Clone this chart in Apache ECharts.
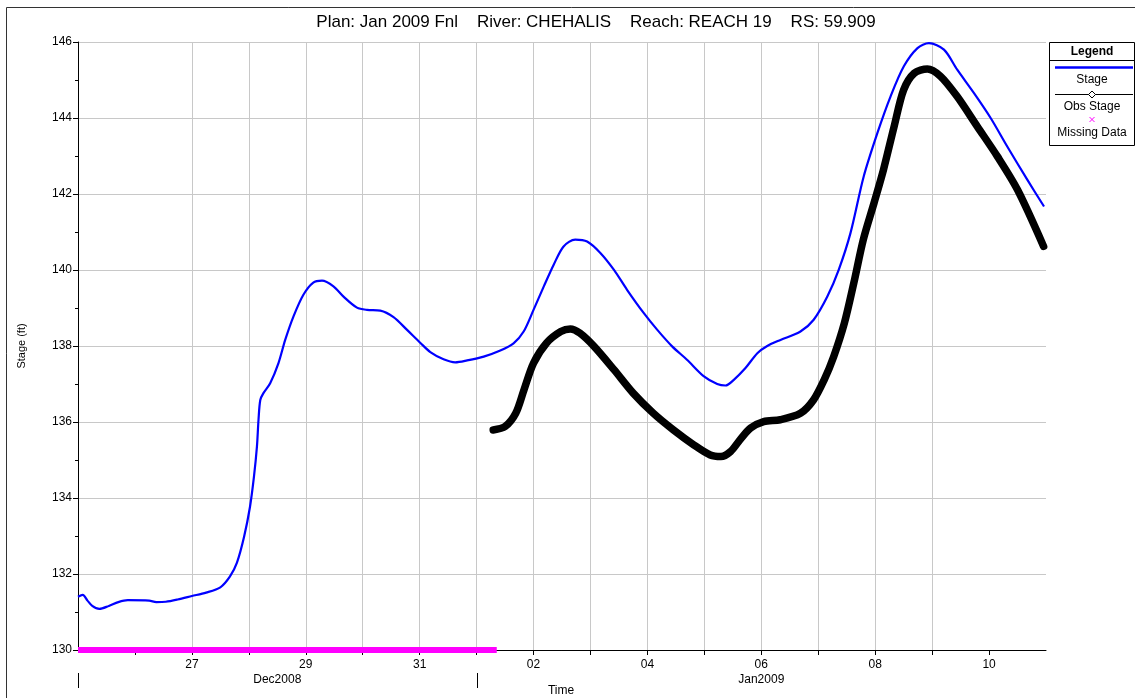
<!DOCTYPE html>
<html>
<head>
<meta charset="utf-8">
<title>Stage hydrograph - CHEHALIS REACH 19 RS 59.909</title>
<script src="https://cdn.jsdelivr.net/npm/echarts@6/dist/echarts.min.js"></script>
<style>
  html, body { margin: 0; padding: 0; background: #fff; }
  #chart { width: 1135px; height: 698px; }
</style>
</head>
<body>
<div id="chart"></div>
<script>
// ---- data -------------------------------------------------------------
const titleText = 'Plan: Jan 2009 Fnl    River: CHEHALIS    Reach: REACH 19    RS: 59.909';
const axisStart = '2008-12-25 00:00';
const axisEnd = '2009-01-11 00:00';
const monthLabels = ['Dec2008', 'Jan2009'];
const monthStarts = ['2008-12-25 00:00', '2009-01-01 00:00'];

// Computed stage (ft)
const stageTimes = [
  '2008-12-25 00:00', '2008-12-25 02:00', '2008-12-25 04:00', '2008-12-25 06:00', '2008-12-25 09:00',
  '2008-12-25 13:00', '2008-12-25 17:00', '2008-12-25 21:00', '2008-12-26 06:00', '2008-12-26 09:00',
  '2008-12-26 13:00', '2008-12-26 18:00', '2008-12-27 00:00', '2008-12-27 06:00', '2008-12-27 12:00',
  '2008-12-27 16:00', '2008-12-27 19:00', '2008-12-27 22:00', '2008-12-28 00:30', '2008-12-28 02:10',
  '2008-12-28 03:25', '2008-12-28 04:05', '2008-12-28 04:50', '2008-12-28 06:10', '2008-12-28 09:00',
  '2008-12-28 12:30', '2008-12-28 15:20', '2008-12-28 18:50', '2008-12-28 23:00', '2008-12-29 03:10',
  '2008-12-29 06:50', '2008-12-29 11:40', '2008-12-29 15:55', '2008-12-29 21:35', '2008-12-30 01:50',
  '2008-12-30 07:25', '2008-12-30 13:00', '2008-12-30 18:35', '2008-12-31 00:20', '2008-12-31 04:30',
  '2008-12-31 10:05', '2008-12-31 15:00', '2008-12-31 20:00', '2009-01-01 03:00', '2009-01-01 10:00',
  '2009-01-01 15:35', '2009-01-01 19:50', '2009-01-02 00:00', '2009-01-02 04:20', '2009-01-02 08:30',
  '2009-01-02 12:40', '2009-01-02 17:35', '2009-01-02 22:35', '2009-01-03 04:10', '2009-01-03 09:50',
  '2009-01-03 15:25', '2009-01-03 22:25', '2009-01-04 04:05', '2009-01-04 10:25', '2009-01-04 16:40',
  '2009-01-04 23:50', '2009-01-05 05:25', '2009-01-05 08:55', '2009-01-05 12:25', '2009-01-05 17:20',
  '2009-01-05 22:20', '2009-01-06 02:30', '2009-01-06 08:05', '2009-01-06 16:30', '2009-01-06 22:05',
  '2009-01-07 03:50', '2009-01-07 08:40', '2009-01-07 13:35', '2009-01-07 19:10', '2009-01-08 00:55',
  '2009-01-08 06:30', '2009-01-08 12:05', '2009-01-08 17:50', '2009-01-08 22:40', '2009-01-09 05:00',
  '2009-01-09 10:35', '2009-01-09 17:35', '2009-01-10 00:40', '2009-01-10 07:40', '2009-01-10 16:10',
  '2009-01-10 23:10'
];
const stageValues = [
  131.40, 131.45, 131.30, 131.16, 131.08,
  131.16, 131.26, 131.31, 131.30, 131.26,
  131.27, 131.33, 131.42, 131.51, 131.65,
  131.93, 132.30, 132.98, 133.77, 134.56,
  135.35, 136.06, 136.58, 136.76, 137.02,
  137.55, 138.16, 138.78, 139.35, 139.67,
  139.72, 139.57, 139.30, 139.01, 138.95,
  138.93, 138.76, 138.43, 138.08, 137.84,
  137.65, 137.57, 137.62, 137.72, 137.88,
  138.07, 138.38, 138.95, 139.57, 140.14,
  140.62, 140.80, 140.75, 140.45, 140.01,
  139.48, 138.87, 138.43, 137.99, 137.64,
  137.20, 137.00, 136.96, 137.11, 137.42,
  137.81, 138.00, 138.16, 138.38, 138.69,
  139.30, 140.01, 140.97, 142.46, 143.60,
  144.57, 145.36, 145.84, 145.97, 145.80,
  145.27, 144.66, 144.00, 143.25, 142.37,
  141.67
];

// Observed stage (ft)
const obsTimes = [
  '2009-01-01 07:00', '2009-01-01 12:00', '2009-01-01 16:30', '2009-01-01 20:00', '2009-01-02 00:00',
  '2009-01-02 05:30', '2009-01-02 11:30', '2009-01-02 15:30', '2009-01-02 19:30', '2009-01-03 01:30',
  '2009-01-03 10:00', '2009-01-03 18:00', '2009-01-04 02:30', '2009-01-04 11:00', '2009-01-04 19:30',
  '2009-01-05 02:30', '2009-01-05 07:00', '2009-01-05 11:00', '2009-01-05 15:00', '2009-01-05 19:30',
  '2009-01-06 01:00', '2009-01-06 08:00', '2009-01-06 16:30', '2009-01-06 22:00', '2009-01-07 02:30',
  '2009-01-07 06:30', '2009-01-07 11:00', '2009-01-07 15:00', '2009-01-07 19:00', '2009-01-07 23:30',
  '2009-01-08 03:30', '2009-01-08 08:00', '2009-01-08 12:00', '2009-01-08 16:30', '2009-01-08 22:00',
  '2009-01-09 03:30', '2009-01-09 10:30', '2009-01-09 19:00', '2009-01-10 03:30', '2009-01-10 12:00',
  '2009-01-10 23:00'
];
const obsValues = [
  135.79, 135.88, 136.23, 136.85, 137.55,
  138.08, 138.38, 138.45, 138.34, 137.99,
  137.37, 136.76, 136.23, 135.79, 135.40,
  135.13, 135.09, 135.22, 135.53, 135.84,
  136.01, 136.06, 136.23, 136.58, 137.11,
  137.72, 138.60, 139.66, 140.80, 141.76,
  142.64, 143.78, 144.74, 145.18, 145.29,
  145.10, 144.57, 143.78, 142.99, 142.11,
  140.62
];

// Period with no observed record, flagged at the axis floor
const missingTimes = ['2008-12-25 00:00', '2009-01-01 08:30'];
const missingValues = [130, 130];

// Stage axis
const yMin = 130, yMax = 146, yStep = 2;

// ---- helpers ----------------------------------------------------------
const DAY = 86400000;
function toMs(s) {
  const [d, t] = s.split(' ');
  const [Y, M, D] = d.split('-').map(Number);
  const [h, m] = t.split(':').map(Number);
  return Date.UTC(Y, M - 1, D, h, m);
}
function pairs(times, values) {
  return times.map((t, i) => [toMs(t), values[i]]);
}
const tStart = toMs(axisStart);
const tEnd = toMs(axisEnd);
const dayTicks = [];
for (let t = tStart + DAY; t < tEnd; t += DAY) dayTicks.push(t);
const pad2 = n => (n < 10 ? '0' : '') + n;

const FONT = '"Liberation Sans", Arial, sans-serif';

// ---- chart ------------------------------------------------------------
const chart = echarts.init(document.getElementById('chart'), null, { renderer: 'canvas' });

chart.setOption({
  animation: false,
  backgroundColor: '#ffffff',
  textStyle: { fontFamily: FONT },
  grid: { left: 78, right: 89, top: 42, bottom: 48, containLabel: false },
  xAxis: {
    type: 'value',
    min: tStart,
    max: tEnd,
    interval: 2 * DAY,
    axisLine: { show: true, lineStyle: { color: '#000', width: 1 } },
    axisTick: { show: true, inside: false, length: 5, customValues: dayTicks, lineStyle: { color: '#000' } },
    minorTick: { show: false },
    axisLabel: {
      color: '#000', fontSize: 12, fontFamily: FONT, margin: 9,
      showMinLabel: false, showMaxLabel: false,
      formatter: v => (v <= tStart || v >= tEnd) ? '' : pad2(new Date(v).getUTCDate())
    },
    splitLine: { show: true, showMinLine: false, showMaxLine: false, lineStyle: { color: '#c8c8c8', width: 1 } }
  },
  yAxis: {
    type: 'value',
    min: yMin,
    max: yMax,
    interval: yStep,
    name: 'Stage (ft)',
    nameLocation: 'middle',
    nameRotate: 90,
    nameGap: 51,
    nameTextStyle: { color: '#000', fontSize: 11, fontFamily: FONT },
    axisLine: { show: true, lineStyle: { color: '#000', width: 1 } },
    axisTick: { show: true, inside: false, length: 5, lineStyle: { color: '#000' } },
    minorTick: { show: true, splitNumber: 2, length: 3, lineStyle: { color: '#000' } },
    axisLabel: { color: '#000', fontSize: 12, fontFamily: FONT, margin: 6 },
    splitLine: { show: true, showMinLine: false, lineStyle: { color: '#c8c8c8', width: 1 } }
  },
  series: [
    {
      name: 'Missing Data',
      type: 'line',
      data: pairs(missingTimes, missingValues),
      symbol: 'none',
      lineStyle: { color: '#ff00ff', width: 6 },
      z: 3
    },
    {
      name: 'Obs Stage',
      type: 'line',
      data: pairs(obsTimes, obsValues),
      symbol: 'none',
      smooth: 0.3,
      lineStyle: { color: '#000', width: 7.5, cap: 'round', join: 'round' },
      z: 4
    },
    {
      name: 'Stage',
      type: 'line',
      data: pairs(stageTimes, stageValues),
      symbol: 'none',
      smooth: 0.3,
      lineStyle: { color: '#0000ff', width: 2.2, join: 'round' },
      z: 5
    }
  ]
});

// ---- decorations: frame, title, month band, legend ---------------------
const px = t => chart.convertToPixel({ xAxisIndex: 0 }, t);
const xRight = px(tEnd);
const monthX = monthStarts.map(s => px(toMs(s)));
const bandY = 680;

const graphics = [
  { type: 'rect', silent: true, z: 0,
    shape: { x: 6.5, y: 7.5, width: 1200, height: 800 },
    style: { fill: null, stroke: '#333', lineWidth: 1 } },
  { type: 'text', x: 596, y: 22, z: 10,
    style: { text: titleText, font: '17px ' + FONT, fill: '#000', textAlign: 'center', textVerticalAlign: 'middle' } },
  { type: 'text', x: 561, y: 691, z: 10,
    style: { text: 'Time', font: '12px ' + FONT, fill: '#000', textAlign: 'center', textVerticalAlign: 'middle' } }
];

// month separators and labels
monthX.forEach((x, i) => {
  const xr = Math.round(x) + 0.5;
  graphics.push({ type: 'line', silent: true, z: 10,
    shape: { x1: xr, y1: 673, x2: xr, y2: 688 }, style: { stroke: '#000', lineWidth: 1 } });
  const xEnd = i + 1 < monthX.length ? monthX[i + 1] : xRight;
  graphics.push({ type: 'text', x: (x + xEnd) / 2, y: bandY, z: 10,
    style: { text: monthLabels[i], font: '12px ' + FONT, fill: '#000', textAlign: 'center', textVerticalAlign: 'middle' } });
});

// legend box
const lgX = 1049.5, lgY = 42.5, lgW = 85, lgH = 103, lgC = lgX + lgW / 2;
graphics.push(
  { type: 'rect', z: 20, shape: { x: lgX, y: lgY, width: lgW, height: lgH },
    style: { fill: '#fff', stroke: '#000', lineWidth: 1 } },
  { type: 'text', x: lgC, y: 52, z: 21,
    style: { text: 'Legend', font: 'bold 12px ' + FONT, fill: '#000', textAlign: 'center', textVerticalAlign: 'middle' } },
  { type: 'line', z: 21, shape: { x1: lgX, y1: 60.5, x2: lgX + lgW, y2: 60.5 }, style: { stroke: '#000', lineWidth: 1 } },
  { type: 'line', z: 21, shape: { x1: 1055, y1: 67.5, x2: 1133, y2: 67.5 }, style: { stroke: '#0000ff', lineWidth: 2.5 } },
  { type: 'text', x: lgC, y: 80, z: 21,
    style: { text: 'Stage', font: '12px ' + FONT, fill: '#000', textAlign: 'center', textVerticalAlign: 'middle' } },
  { type: 'line', z: 21, shape: { x1: 1055, y1: 94.5, x2: 1133, y2: 94.5 }, style: { stroke: '#000', lineWidth: 1 } },
  { type: 'polygon', z: 22, shape: { points: [[lgC, 91], [lgC + 3.5, 94.5], [lgC, 98], [lgC - 3.5, 94.5]] },
    style: { fill: '#fff', stroke: '#000', lineWidth: 1 } },
  { type: 'text', x: lgC, y: 107, z: 21,
    style: { text: 'Obs Stage', font: '12px ' + FONT, fill: '#000', textAlign: 'center', textVerticalAlign: 'middle' } },
  { type: 'line', z: 21, shape: { x1: lgC - 2.5, y1: 117, x2: lgC + 2.5, y2: 122 }, style: { stroke: '#ff00ff', lineWidth: 1 } },
  { type: 'line', z: 21, shape: { x1: lgC + 2.5, y1: 117, x2: lgC - 2.5, y2: 122 }, style: { stroke: '#ff00ff', lineWidth: 1 } },
  { type: 'text', x: lgC, y: 133, z: 21,
    style: { text: 'Missing Data', font: '12px ' + FONT, fill: '#000', textAlign: 'center', textVerticalAlign: 'middle' } }
);

chart.setOption({ graphic: graphics });
</script>
</body>
</html>
